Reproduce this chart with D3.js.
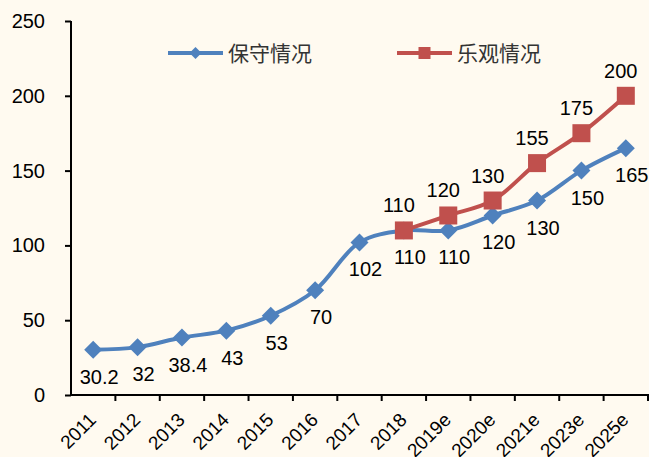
<!DOCTYPE html>
<html>
<head>
<meta charset="utf-8">
<style>
  body { margin: 0; background: #fffaf0; }
  svg { display: block; font-family: "Liberation Sans", Arial, sans-serif; }
  .legend text { font-family: "Noto Sans CJK SC", sans-serif; }
</style>
</head>
<body>
<svg width="649" height="457"></svg>
<script src="https://d3js.org/d3.v7.min.js"></script>
<script>
  // chart data
  const years = ["2011", "2012", "2013", "2014", "2015", "2016", "2017", "2018", "2019e", "2020e", "2021e", "2023e", "2025e"];
  const conservative = [30.2, 32, 38.4, 43, 53, 70, 102, 110, 110, 120, 130, 150, 165];
  const optimisticYears = ["2018", "2019e", "2020e", "2021e", "2023e", "2025e"];
  const optimistic = [110, 120, 130, 155, 175, 200];
  const yTicks = [0, 50, 100, 150, 200, 250];
  const seriesNames = ["保守情况", "乐观情况"];

  const blue = "#4f81bd";
  const red = "#c0504d";

  const svg = d3.select("svg");
  svg.append("rect").attr("width", 649).attr("height", 457).attr("fill", "#fffaf0");

  const x = d3.scaleBand().domain(years).range([71, 648]);
  const y = d3.scaleLinear().domain([0, 250]).range([395, 21]);
  const cx = d => x(d) + x.bandwidth() / 2;

  // y axis
  const yAxis = svg.append("g")
    .attr("transform", "translate(71,0)")
    .call(d3.axisLeft(y).tickValues(yTicks).tickSize(6).tickPadding(20));
  yAxis.select(".domain").attr("stroke", "#000").attr("stroke-width", 2).attr("d", "M0,21V395");
  yAxis.selectAll(".tick line").attr("stroke", "#000").attr("stroke-width", 2);
  yAxis.selectAll("text").attr("font-size", 20).attr("fill", "#000")
    .attr("font-family", "'Liberation Sans', Arial, sans-serif");

  // x axis, ticks between categories
  const xg = svg.append("g");
  xg.append("line").attr("x1", 71).attr("x2", 649).attr("y1", 395).attr("y2", 395)
    .attr("stroke", "#000").attr("stroke-width", 2);
  xg.selectAll(".xt").data(years).join("line")
    .attr("x1", d => x(d) + x.bandwidth()).attr("x2", d => x(d) + x.bandwidth())
    .attr("y1", 395).attr("y2", 401).attr("stroke", "#000").attr("stroke-width", 2);
  xg.selectAll(".xl").data(years).join("text")
    .attr("transform", d => `translate(${cx(d) + 4},${421}) rotate(-45)`)
    .attr("text-anchor", "end")
    .attr("font-size", 19).attr("fill", "#000").text(d => d);

  const line = d3.line().curve(d3.curveCatmullRom.alpha(0.5));

  const bluePts = years.map((d, i) => [cx(d), y(conservative[i])]);
  const redPts = optimisticYears.map((d, i) => [cx(d), y(optimistic[i])]);

  // conservative series
  svg.append("path").attr("d", line(bluePts)).attr("fill", "none")
    .attr("stroke", blue).attr("stroke-width", 4);
  svg.selectAll(".dia").data(bluePts).join("path")
    .attr("transform", d => `translate(${d[0]},${d[1]})`)
    .attr("d", "M0,-9L9,0L0,9L-9,0Z").attr("fill", blue);

  // optimistic series
  svg.append("path").attr("d", line(redPts)).attr("fill", "none")
    .attr("stroke", red).attr("stroke-width", 4);
  svg.selectAll(".sq").data(redPts).join("rect")
    .attr("x", d => d[0] - 9).attr("y", d => d[1] - 9)
    .attr("width", 18).attr("height", 18).attr("fill", red);

  // data labels
  svg.selectAll(".bl").data(conservative).join("text")
    .attr("x", (d, i) => cx(years[i]) + 6).attr("y", d => y(d) + 27)
    .attr("dy", "0.35em").attr("text-anchor", "middle")
    .attr("font-size", 20).attr("fill", "#000").text(d => d);
  svg.selectAll(".rl").data(optimistic).join("text")
    .attr("x", (d, i) => cx(optimisticYears[i]) - 5).attr("y", d => y(d) - 25)
    .attr("dy", "0.35em").attr("text-anchor", "middle")
    .attr("font-size", 20).attr("fill", "#000").text(d => d);

  // legend
  const legend = svg.append("g").attr("class", "legend");
  const items = [
    { name: seriesNames[0], color: blue, x: 168, shape: "dia" },
    { name: seriesNames[1], color: red, x: 397, shape: "sq" }
  ];
  items.forEach(it => {
    const g = legend.append("g").attr("transform", `translate(${it.x},53)`);
    g.append("line").attr("x1", 0).attr("x2", 55).attr("stroke", it.color).attr("stroke-width", 4);
    if (it.shape === "dia") {
      g.append("path").attr("d", "M27.5,-6L33.5,0L27.5,6L21.5,0Z").attr("fill", it.color);
    } else {
      g.append("rect").attr("x", 21.5).attr("y", -6).attr("width", 12).attr("height", 12).attr("fill", it.color);
    }
    g.append("text").attr("x", 60).attr("dy", "0.36em")
      .attr("font-size", 21).attr("fill", "#333").text(it.name);
  });
</script>
</body>
</html>
